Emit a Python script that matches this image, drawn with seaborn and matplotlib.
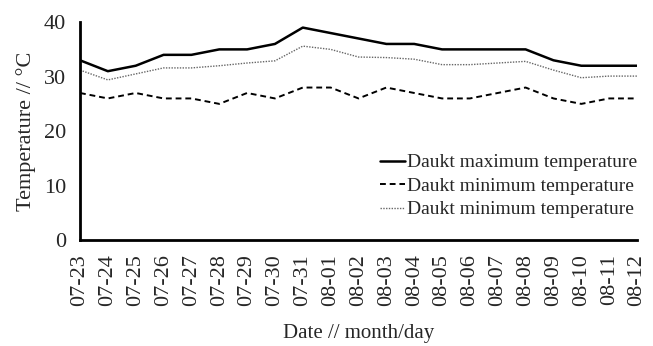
import numpy as np
import pandas as pd
import matplotlib
matplotlib.use("Agg")
import matplotlib.pyplot as plt
import seaborn as sns

# data
dates = ["07-23", "07-24", "07-25", "07-26", "07-27", "07-28", "07-29", "07-30",
         "07-31", "08-01", "08-02", "08-03", "08-04", "08-05", "08-06", "08-07",
         "08-08", "08-09", "08-10", "08-11", "08-12"]
t_max = [33, 31, 32, 34, 34, 35, 35, 36, 39, 38, 37, 36, 36, 35, 35, 35, 35, 33, 32, 32, 32]
t_min = [27, 26, 27, 26, 26, 25, 27, 26, 28, 28, 26, 28, 27, 26, 26, 27, 28, 26, 25, 26, 26]
t_mean = [31.2, 29.4, 30.5, 31.6, 31.6, 32.0, 32.5, 32.9, 35.6, 35.0, 33.6, 33.5, 33.2,
          32.2, 32.2, 32.5, 32.8, 31.2, 29.8, 30.1, 30.1]
labels = ["Daukt maximum temperature", "Daukt minimum temperature", "Daukt minimum temperature"]

df = pd.DataFrame({"x": np.arange(len(dates)), "max": t_max, "min": t_min, "mean": t_mean})

sns.set_style("white")
plt.rcParams["font.family"] = ["Liberation Serif", "DejaVu Serif"]

fig = plt.figure(figsize=(6.53, 3.46), dpi=100)
ax = fig.add_axes([0.1225, 0.306, 0.853, 0.630])

sns.lineplot(data=df, x="x", y="max", ax=ax, color="black", lw=1.8, label=labels[0])
sns.lineplot(data=df, x="x", y="min", ax=ax, color="black", lw=1.4, ls=(0, (3, 2)), label=labels[1])
sns.lineplot(data=df, x="x", y="mean", ax=ax, color="#666666", lw=1.0, ls=(0, (1, 1)), label=labels[2])

ax.set_xlim(0, len(dates) - 1)
ax.set_ylim(0, 40)
ax.set_xticks(df["x"])
ax.set_xticklabels(dates, rotation=90, fontsize=16)
ax.set_yticks([0, 10, 20, 30, 40])
ax.tick_params(axis="y", labelsize=16, direction="in", length=6, width=2, pad=10)
ax.tick_params(axis="x", direction="in", length=6, width=1.5, pad=10)
for s in ["top", "right"]:
    ax.spines[s].set_visible(False)
for s in ["left", "bottom"]:
    ax.spines[s].set_linewidth(2)
    ax.spines[s].set_color("black")

ax.set_xlabel("Date // month/day", fontsize=15, labelpad=13)
ax.set_ylabel("Temperature // °C", fontsize=16, labelpad=6)

ax.legend(loc="lower right", bbox_to_anchor=(1.0, 0.1), frameon=False, fontsize=14,
          handlelength=1.3, handletextpad=0.1, labelspacing=0.3, borderaxespad=0,
          borderpad=0)

fig.savefig("out.png", dpi=100)
